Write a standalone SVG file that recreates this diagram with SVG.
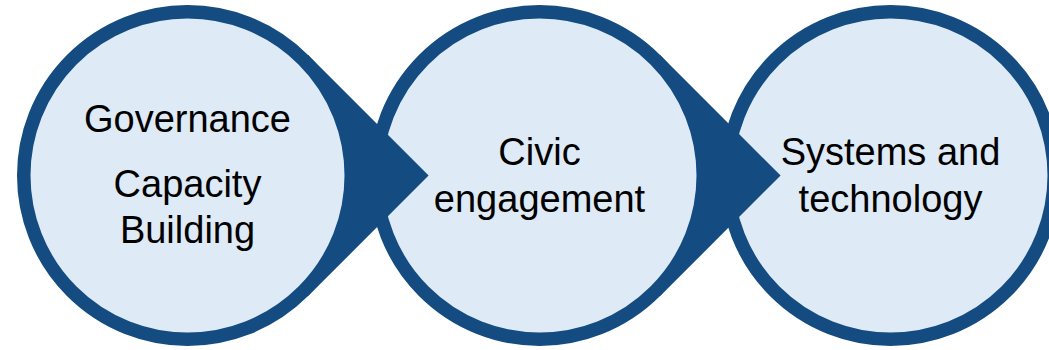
<svg xmlns="http://www.w3.org/2000/svg" width="1049" height="350" viewBox="0 0 1049 350">
  <style>
    .ring { fill: #DEEAF6; stroke: #144B80; stroke-width: 13.5; }
    .ptr { fill: #144B80; stroke: none; }
    .lbl { font-family: "Liberation Sans", Arial, sans-serif; font-size: 38px; fill: #000000; text-anchor: middle; }
  </style>
  <rect width="1049" height="350" fill="#ffffff"/>
  <g id="nodes">
    <g id="node-governance">
      <circle class="ring" cx="187.5" cy="175.5" r="163.75"/>
      <text class="lbl" x="187.5" y="132">Governance</text>
      <text class="lbl" x="187.5" y="197">Capacity</text>
      <text class="lbl" x="187.5" y="243">Building</text>
    </g>
    <g id="node-civic">
      <circle class="ring" cx="539.5" cy="175.5" r="163.75"/>
      <text class="lbl" x="539.5" y="165">Civic</text>
      <text class="lbl" x="539.5" y="212">engagement</text>
    </g>
    <g id="node-systems">
      <circle class="ring" cx="890.5" cy="175.5" r="163.75"/>
      <text class="lbl" x="890.5" y="165">Systems and</text>
      <text class="lbl" x="890.5" y="212">technology</text>
    </g>
  </g>
  <g id="connectors">
    <path class="ptr" d="M304.2,58.8 L308.1,54.9 L428.6,175.5 L308.1,296.1 L304.2,292.2 A165,165 0 0 0 304.2,58.8 Z"/>
    <path class="ptr" d="M656.2,58.8 L660.1,54.9 L780.6,175.5 L660.1,296.1 L656.2,292.2 A165,165 0 0 0 656.2,58.8 Z"/>
  </g>
</svg>
